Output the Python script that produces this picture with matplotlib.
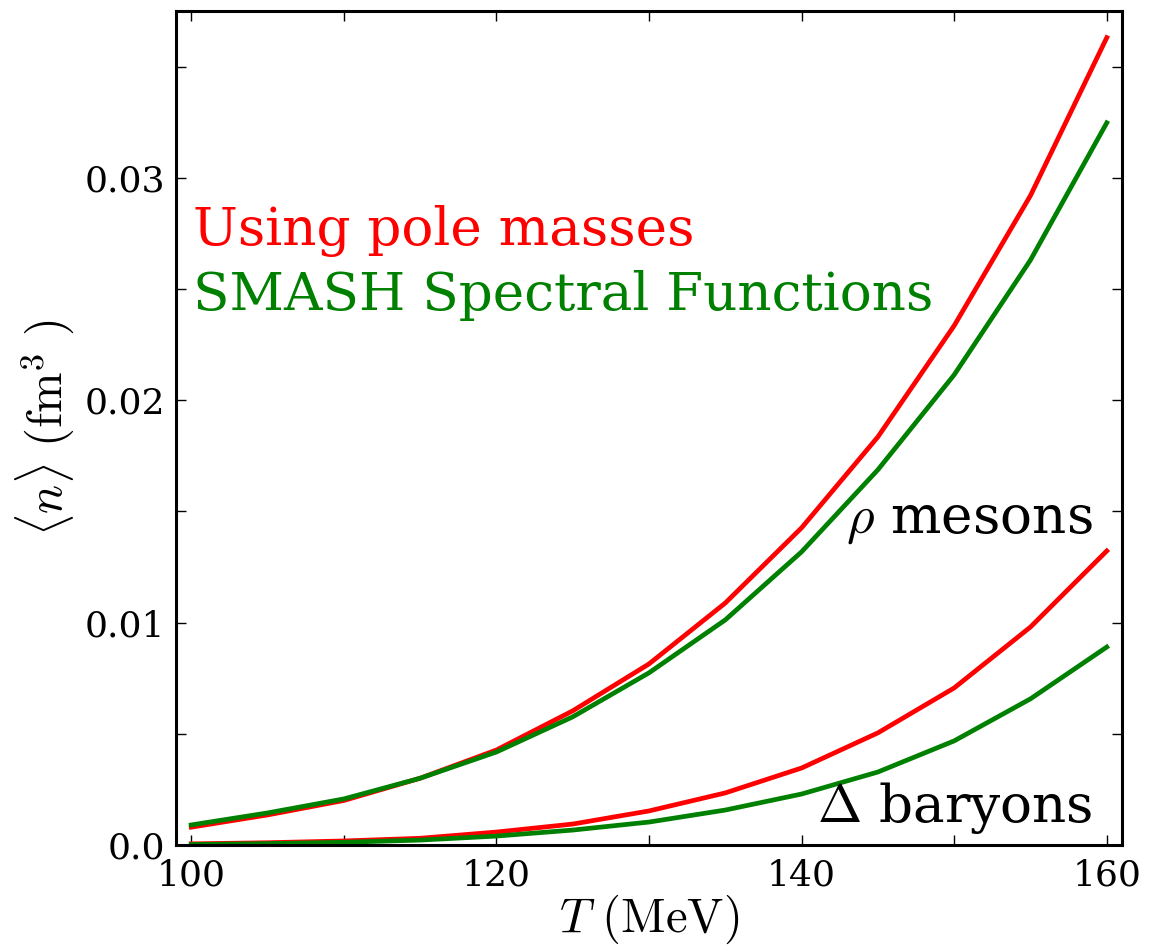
import numpy as np
import matplotlib
matplotlib.use("Agg")
import matplotlib.pyplot as plt
from matplotlib.ticker import MultipleLocator, FixedLocator

plt.rcParams['font.family'] = ['DejaVu Serif']
plt.rcParams['mathtext.fontset'] = 'cm'

# temperatures (MeV)
T = [100, 105, 110, 115, 120, 125, 130, 135, 140, 145, 150, 155, 160]

# rho mesons
rho_pole = [0.0008, 0.00135, 0.0020, 0.0030, 0.00427, 0.00603, 0.00814,
            0.01088, 0.01426, 0.01835, 0.02335, 0.0292, 0.0363]
rho_smash = [0.0009, 0.00144, 0.00207, 0.0030, 0.00418, 0.00576, 0.00774,
             0.01012, 0.01318, 0.01687, 0.02114, 0.0263, 0.03247]

# Delta baryons
delta_pole = [0.00005, 0.0001, 0.00018, 0.0003, 0.00058, 0.00094, 0.00153,
              0.00234, 0.00346, 0.00504, 0.00706, 0.0098, 0.01322]
delta_smash = [0.00002, 0.00006, 0.00012, 0.00022, 0.0004, 0.00067, 0.00103,
               0.00157, 0.00229, 0.00328, 0.00468, 0.00657, 0.0089]

red = '#ff0000'
green = '#008000'

fig = plt.figure(figsize=(11.54, 9.51), dpi=100)
ax = fig.add_axes([0.1525, 0.1115, 0.8198, 0.877])

ax.plot(T, rho_pole, color=red, lw=3.4)
ax.plot(T, rho_smash, color=green, lw=3.4)
ax.plot(T, delta_pole, color=red, lw=3.4)
ax.plot(T, delta_smash, color=green, lw=3.4)

ax.set_xlim(99, 161)
ax.set_ylim(0, 0.0375)

ax.xaxis.set_major_locator(FixedLocator([100, 120, 140, 160]))
ax.xaxis.set_minor_locator(FixedLocator([110, 130, 150]))
ax.yaxis.set_major_locator(FixedLocator([0.0, 0.01, 0.02, 0.03]))
ax.yaxis.set_minor_locator(FixedLocator([0.005, 0.015, 0.025, 0.035]))
ax.set_yticklabels(['0.0', '0.01', '0.02', '0.03'])

ax.tick_params(which='both', direction='in', top=True, right=True,
               length=7, width=1, labelsize=26)
ax.tick_params(axis='y', pad=8)
ax.tick_params(axis='x', pad=10)
for s in ax.spines.values():
    s.set_linewidth(2.2)

ax.set_xlabel(r'$T\ \mathrm{(MeV)}$', fontsize=35, labelpad=0)
ax.set_ylabel(r'$\langle n\rangle\ (\mathrm{fm}^3\ )$', fontsize=35, labelpad=6)

ax.text(0.018, 0.719, 'Using pole masses', color=red, fontsize=38.3,
        transform=ax.transAxes, va='baseline')
ax.text(0.018, 0.641, 'SMASH Spectral Functions', color=green, fontsize=38.3,
        transform=ax.transAxes, va='baseline')
ax.text(159.1, 0.01404, r'$\rho$ mesons', fontsize=38.3, ha='right', va='baseline')
ax.text(159.1, 0.00103, r'$\Delta$ baryons', fontsize=38.3, ha='right', va='baseline')

fig.savefig('out.png', dpi=100)
